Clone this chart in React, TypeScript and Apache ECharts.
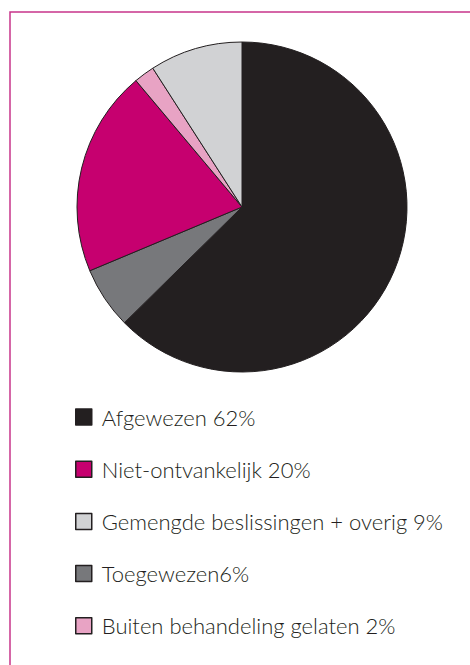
import React, { useEffect, useRef } from "react";
import * as echarts from "echarts";

const sliceNames = ["Afgewezen", "Toegewezen", "Niet-ontvankelijk", "Buiten behandeling gelaten", "Gemengde beslissingen + overig"];
const sliceValues = [62, 6, 20, 2, 9];
const sliceColors = ["#231f20", "#77787b", "#c6006f", "#e8a3c4", "#d1d2d4"];
const legendOrder = ["Afgewezen", "Niet-ontvankelijk", "Gemengde beslissingen + overig", "Toegewezen", "Buiten behandeling gelaten"];
const legendSeparator: Record<string, string> = {
  "Afgewezen": " ",
  "Niet-ontvankelijk": " ",
  "Gemengde beslissingen + overig": " ",
  "Toegewezen": "",
  "Buiten behandeling gelaten": " ",
};

export default function App() {
  const ref = useRef<HTMLDivElement>(null);
  useEffect(() => {
    if (!ref.current) return;
    const chart = echarts.init(ref.current, null, { renderer: "svg" });
    const data = sliceNames.map((n, i) => ({
      name: n,
      value: sliceValues[i],
      itemStyle: { color: sliceColors[i] },
    }));
    chart.setOption({
      animation: false,
      backgroundColor: "#ffffff",
      legend: {
        orient: "vertical",
        left: 75,
        top: 406,
        padding: 0,
        data: legendOrder,
        icon: "rect",
        itemWidth: 16,
        itemHeight: 16,
        itemGap: 30.2,
        selectedMode: false,
        itemStyle: { borderColor: "#231f20", borderWidth: 1.5 },
        formatter: (name: string) => {
          const i = sliceNames.indexOf(name);
          return name + legendSeparator[name] + sliceValues[i] + "%";
        },
        textStyle: {
          fontFamily: "Lato",
          fontSize: 22,
          fontWeight: 300,
          color: "#231f20",
          lineHeight: 16,
          padding: [2, 0, 0, 5],
        },
      },
      graphic: [
        {
          type: "polyline",
          shape: { points: [[10, 680], [10, 12], [480, 12]] },
          style: { stroke: "#c8348a", lineWidth: 1.5, fill: "none" },
          silent: true,
        },
      ],
      series: [
        {
          type: "pie",
          center: [242, 207],
          radius: 165,
          startAngle: 90,
          clockwise: true,
          label: { show: false },
          labelLine: { show: false },
          emphasis: { disabled: true },
          itemStyle: { borderColor: "#231f20", borderWidth: 1 },
          data,
        },
      ],
    });
    return () => chart.dispose();
  }, []);
  return (
    <div
      ref={ref}
      style={{ position: "fixed", left: 0, top: 0, width: 470, height: 665 }}
    />
  );
}
